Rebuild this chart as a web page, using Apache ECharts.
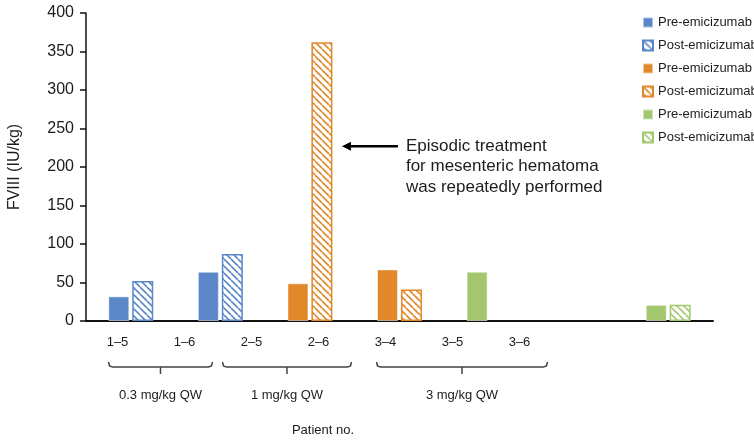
<!DOCTYPE html>
<html>
<head>
<meta charset="utf-8">
<script src="https://cdn.jsdelivr.net/npm/echarts@6/dist/echarts.min.js"></script>
<style>
  html, body { margin: 0; padding: 0; background: #fff; }
  #chart { width: 754px; height: 442px; }
</style>
</head>
<body>
<div id="chart"></div>
<script>
// Patients and FVIII values (IU/kg) before and after emicizumab, by dose cohort
const patients = ['1–5', '1–6', '2–5', '2–6', '3–4', '3–5', '3–6'];
const preLow   = [32, 64, null, null, null, null, null];
const postLow  = [52, 87, null, null, null, null, null];
const preMid   = [null, null, 49, 67, null, null, null];
const postMid  = [null, null, 362, 41, null, null, null];
const preHigh  = [null, null, null, null, 64, null, 21];
const postHigh = [null, null, null, null, null, null, 21];
const yTicks = { min: 0, max: 400, step: 50 };

// Dose cohorts shown under the axis
const cohorts = [
  { label: '0.3 mg/kg QW', from: '1–5', to: '1–6' },
  { label: '1 mg/kg QW',   from: '2–5', to: '2–6' },
  { label: '3 mg/kg QW',   from: '3–4', to: '3–6' }
];
const bracketPad = [[9, 28], [29, 33], [9, 28]];

const noteLines = ['Episodic treatment', 'for mesenteric hematoma', 'was repeatedly performed'];
const notePatient = '2–5';
const noteValue = 227;

const BLUE = '#5b87c8', ORANGE = '#e0882a', GREEN = '#a2c76f';
const INK = '#1c1c1c';
const SANS = '"Liberation Sans", Arial, sans-serif';

// Diagonal hatch tile for post-treatment bars
function hatch(color) {
  const s = 7;
  const c = document.createElement('canvas');
  c.width = s; c.height = s;
  const ctx = c.getContext('2d');
  ctx.fillStyle = '#fff';
  ctx.fillRect(0, 0, s, s);
  ctx.strokeStyle = color;
  ctx.lineWidth = 1.6;
  for (const x of [-s, 0, s]) {
    ctx.beginPath();
    ctx.moveTo(x, 0);
    ctx.lineTo(x + s, s);
    ctx.stroke();
  }
  return { image: c, repeat: 'repeat' };
}

function preSeries(name, data, color) {
  return {
    name, type: 'bar', stack: 'pre', data, barWidth: 21, barGap: '14%',
    itemStyle: { color, borderColor: 'rgba(255,255,255,0.5)', borderWidth: 1 }
  };
}
function postSeries(name, data, color) {
  return {
    name, type: 'bar', stack: 'post', data, barWidth: 21, barGap: '14%',
    itemStyle: { color: hatch(color), borderColor: color, borderWidth: 1.5 }
  };
}

const chart = echarts.init(document.getElementById('chart'), null, { renderer: 'canvas' });

const option = {
  animation: false,
  backgroundColor: '#fff',
  grid: [
    { left: 86, right: 41, top: 13, bottom: 121, containLabel: false, outerBoundsMode: 'none' },
    { left: 84, width: 469, top: 13, bottom: 121, containLabel: false, outerBoundsMode: 'none' }
  ],
  legend: {
    orient: 'vertical', left: 637, top: 11,
    itemWidth: 10, itemHeight: 10, itemGap: 10,
    icon: 'rect',
    textStyle: { fontFamily: SANS, fontSize: 13, color: INK, lineHeight: 12 },
    formatter: n => n.split(',')[0]
  },
  xAxis: [
    {
      type: 'category', data: patients, gridIndex: 0,
      axisLine: { lineStyle: { color: '#111', width: 2 } },
      axisTick: { show: false }, axisLabel: { show: false }
    },
    {
      type: 'category', data: patients, gridIndex: 1,
      axisLine: { show: false }, axisTick: { show: false },
      axisLabel: { margin: 15, fontFamily: SANS, fontSize: 13, color: INK }
    }
  ],
  yAxis: [
    {
      type: 'value', gridIndex: 0, min: yTicks.min, max: yTicks.max, interval: yTicks.step,
      name: 'FVIII (IU/kg)', nameLocation: 'middle', nameGap: 63, nameRotate: 90,
      nameTextStyle: { fontFamily: SANS, fontSize: 16, color: INK },
      axisLine: { show: true, lineStyle: { color: '#111', width: 1.5 } },
      axisTick: { show: true, length: 6, lineStyle: { color: '#111', width: 1.5 } },
      axisLabel: { margin: 12, fontFamily: SANS, fontSize: 16, color: INK },
      splitLine: { show: false }
    },
    {
      type: 'value', gridIndex: 1, min: 0, max: 400, show: false
    }
  ],
  series: [
    preSeries('Pre-emicizumab, 0.3 mg/kg QW', preLow, BLUE),
    postSeries('Post-emicizumab, 0.3 mg/kg QW', postLow, BLUE),
    preSeries('Pre-emicizumab, 1 mg/kg QW', preMid, ORANGE),
    postSeries('Post-emicizumab, 1 mg/kg QW', postMid, ORANGE),
    preSeries('Pre-emicizumab, 3 mg/kg QW', preHigh, GREEN),
    postSeries('Post-emicizumab, 3 mg/kg QW', postHigh, GREEN)
  ]
};
chart.setOption(option);

// Brackets, cohort labels, axis title and the annotation arrow,
// placed from the axes' own scales.
const graphics = [];
const axisY = chart.convertToPixel({ yAxisIndex: 0 }, 0);
const bracketTop = axisY + 41, bracketLine = axisY + 46, bracketTick = axisY + 53;
cohorts.forEach((c, i) => {
  const x1 = chart.convertToPixel({ xAxisIndex: 1 }, c.from) - bracketPad[i][0];
  const x2 = chart.convertToPixel({ xAxisIndex: 1 }, c.to) + bracketPad[i][1];
  const mid = (x1 + x2) / 2;
  graphics.push({
    type: 'polyline',
    shape: { points: [[x1, bracketTop], [x1 + 1, bracketLine - 1], [x1 + 4, bracketLine],
                      [x2 - 4, bracketLine], [x2 - 1, bracketLine - 1], [x2, bracketTop]] },
    style: { stroke: '#444', lineWidth: 1.5, fill: null }
  });
  graphics.push({
    type: 'line',
    shape: { x1: mid, y1: bracketLine, x2: mid, y2: bracketTick },
    style: { stroke: '#444', lineWidth: 1.5 }
  });
  graphics.push({
    type: 'text', x: mid, y: axisY + 74,
    style: { text: c.label, fontFamily: SANS, fontSize: 13, fill: INK, align: 'center', verticalAlign: 'middle' }
  });
});

graphics.push({
  type: 'text', x: 323, y: axisY + 109,
  style: { text: 'Patient no.', fontFamily: SANS, fontSize: 13, fill: INK, align: 'center', verticalAlign: 'middle' }
});

const notePt = chart.convertToPixel({ xAxisIndex: 0, yAxisIndex: 0 }, [notePatient, noteValue]);
const tipX = notePt[0] + 32, tipY = notePt[1];
graphics.push({
  type: 'line',
  shape: { x1: tipX + 6, y1: tipY, x2: tipX + 56, y2: tipY },
  style: { stroke: '#000', lineWidth: 2.5 }
});
graphics.push({
  type: 'polygon',
  shape: { points: [[tipX, tipY], [tipX + 9, tipY - 4.5], [tipX + 9, tipY + 4.5]] },
  style: { fill: '#000' }
});
noteLines.forEach((t, i) => {
  graphics.push({
    type: 'text', x: tipX + 64, y: tipY + i * 20.5,
    style: { text: t, fontFamily: SANS, fontSize: 17, fill: INK, verticalAlign: 'middle' }
  });
});

chart.setOption({ graphic: graphics });
</script>
</body>
</html>
